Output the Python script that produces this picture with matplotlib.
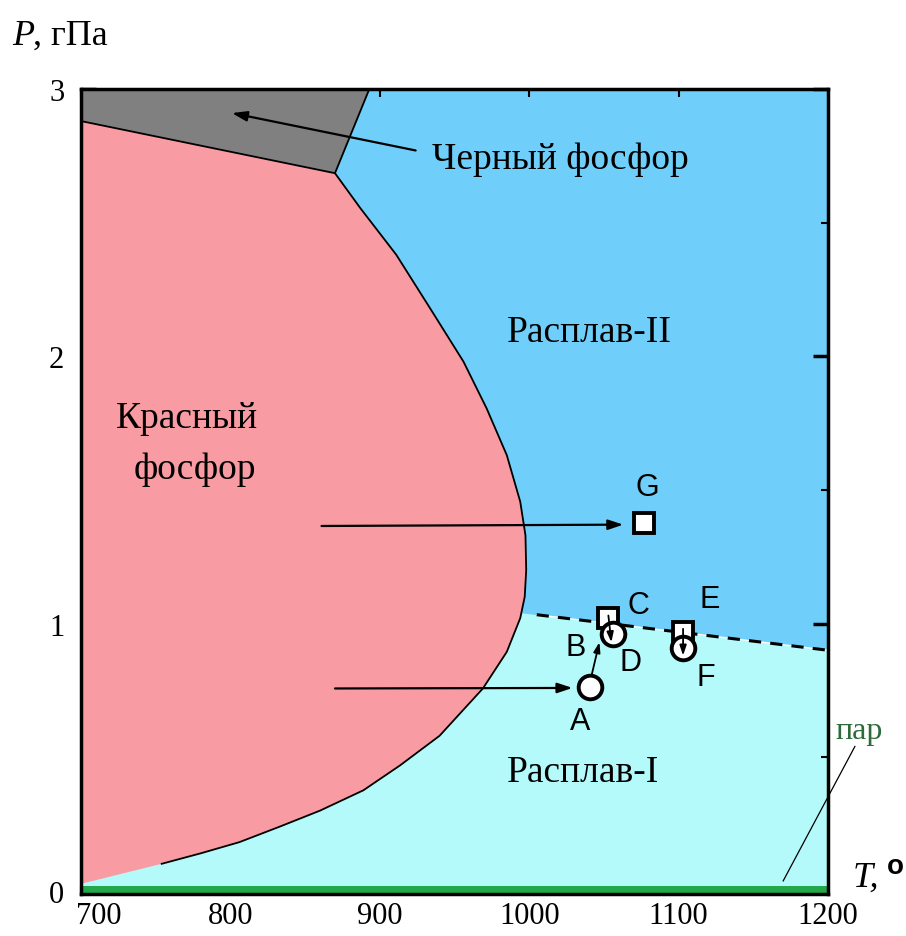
import matplotlib
matplotlib.use("Agg")
import matplotlib.pyplot as plt
import matplotlib.transforms as mtransforms
import numpy as np
from matplotlib.ticker import MultipleLocator

# ---- data ----
red_T = [700, 754, 780, 806, 833, 860, 889, 913.5, 940, 969, 985, 994, 997, 998, 997.5, 994, 985,
         971.5, 956, 933.6, 911, 887, 870, 700]
red_P = [0.026, 0.101, 0.14, 0.182, 0.24, 0.30, 0.376, 0.469, 0.58, 0.757, 0.894, 1.02, 1.10, 1.20,
         1.33, 1.456, 1.63, 1.805, 1.98, 2.18, 2.38, 2.554, 2.685, 2.88]
black_T = [700, 870, 893, 700]
black_P = [2.88, 2.685, 3.0, 3.0]
melt_T = [995, 1200]
melt_P = [1.04, 0.90]
dash_T = [1005, 1200]
dash_P = [1.033, 0.90]

sq_T = [1053, 1103, 1077]      # C, E, G
sq_P = [1.02, 0.97, 1.375]
ci_T = [1041, 1056, 1103]      # A, D, F
ci_P = [0.764, 0.96, 0.91]

pt_labels = ["G", "C", "E", "B", "D", "F", "A"]
pt_lab_T = [1079, 1073, 1121, 1031, 1068, 1118, 1034]
pt_lab_P = [1.51, 1.07, 1.09, 0.913, 0.855, 0.80, 0.637]

xticks = [700, 800, 900, 1000, 1100, 1200]
yticks = [0, 1, 2, 3]

c_red = "#F99BA2"
c_blue = "#6FCFFA"
c_cyan = "#B5FAFB"
c_gray = "#808080"
c_green = "#22A84A"

serif = "Liberation Serif"
sans = "Liberation Sans"

fig = plt.figure(figsize=(9.06, 9.37), dpi=100)
ax = fig.add_axes([81/906, 42/937, (828-81)/906, (895-90)/937])
ax.set_xlim(700, 1200)
ax.set_ylim(-0.012, 3.0)
ax.set_facecolor(c_cyan)

# melt II region (above boundary line)
Tl = np.array([700, 1200])
slope = (melt_P[1]-melt_P[0])/(melt_T[1]-melt_T[0])
Pl = melt_P[0] + slope*(Tl - melt_T[0])
ax.fill_between(Tl, Pl, 3.0, color=c_blue, lw=0, zorder=1)

# red phosphor
ax.fill(red_T, red_P, color=c_red, lw=0, zorder=2)
ax.plot(red_T[1:-1], red_P[1:-1], color="black", lw=1.3, zorder=3, solid_joinstyle="round")
# black phosphor
ax.fill(black_T, black_P, color=c_gray, lw=0, zorder=2)
ax.plot(black_T[:3], black_P[:3], color="black", lw=1.3, zorder=3)

# green vapour band
ax.axhspan(-0.012, 0.018, color=c_green, lw=0, zorder=4)

# dashed melt boundary
ax.plot(dash_T, dash_P, color="white", lw=1.0, zorder=3)
ax.plot(dash_T, dash_P, color="black", lw=2.2, ls=(0, (4, 3)), zorder=4)

# arrows
arrow_kw = dict(arrowstyle="-|>,head_length=0.9,head_width=0.3", color="black", lw=1.6, shrinkA=0, shrinkB=0)
ax.annotate("", xy=(1063, 1.37), xytext=(861, 1.365), arrowprops=arrow_kw, zorder=6)
ax.annotate("", xy=(1029, 0.759), xytext=(870, 0.757), arrowprops=arrow_kw, zorder=6)
ax.annotate("", xy=(801, 2.91), xytext=(924, 2.77), arrowprops=arrow_kw, zorder=6)
small_kw = dict(arrowstyle="-|>,head_length=0.6,head_width=0.2", color="black", lw=1.3, shrinkA=0, shrinkB=0)
ax.annotate("", xy=(1047, 0.93), xytext=(1041.5, 0.80), arrowprops=small_kw, zorder=6)

# markers
ax.plot(sq_T, sq_P, ls="none", marker="s", ms=15, mfc="white", mec="black", mew=2.8, zorder=7)
ax.plot(ci_T, ci_P, ls="none", marker="o", ms=17, mfc="white", mec="black", mew=2.8, zorder=7)
ax.annotate("", xy=(1055, 0.93), xytext=(1053, 1.03), arrowprops=small_kw, zorder=8)
ax.annotate("", xy=(1103, 0.88), xytext=(1103, 0.98), arrowprops=small_kw, zorder=8)

for s, t, p in zip(pt_labels, pt_lab_T, pt_lab_P):
    ax.text(t, p, s, family=sans, fontsize=22, ha="center", va="center", zorder=9)

# region labels
ax.text(1020.6, 2.74, "Черный фосфор", family=serif, fontsize=27, ha="center", va="center", zorder=9)
ax.text(1040.5, 2.09, "Расплав-II", family=serif, fontsize=27, ha="center", va="center", zorder=9)
ax.text(771, 1.77, "Красный", family=serif, fontsize=27, ha="center", va="center", zorder=9)
ax.text(776, 1.58, "фосфор", family=serif, fontsize=27, ha="center", va="center", zorder=9)
ax.text(1036, 0.446, "Расплав-I", family=serif, fontsize=27, ha="center", va="center", zorder=9)

# vapour label and line
ax.plot([1170, 1218], [0.037, 0.54], color="black", lw=0.9, clip_on=False, zorder=9)
ax.text(1221, 0.60, "пар", family=serif, fontsize=23, color="#2E6B3A", ha="center", va="center", clip_on=False)

# axes styling
ax.set_xticks(xticks)
ax.set_yticks(yticks)
ax.yaxis.set_minor_locator(MultipleLocator(0.5))
ax.tick_params(which="both", direction="in", top=True, right=True, zorder=10)
ax.tick_params(axis="y", which="major", length=11, width=2.5, pad=12, labelsize=22)
ax.tick_params(axis="y", which="minor", length=5, width=1.5)
ax.tick_params(axis="x", which="major", length=6, width=1.5, pad=5, labelsize=22)
for lab in ax.get_xticklabels() + ax.get_yticklabels():
    lab.set_family(serif)
# first x label sits right of its tick in the original
first = ax.get_xticklabels()[0]
first.set_transform(first.get_transform() + mtransforms.ScaledTranslation(18/100, 0, fig.dpi_scale_trans))
for sp in ax.spines.values():
    sp.set_linewidth(2.5)
    sp.set_zorder(10)

# axis titles
fig.text(12/906, 1-45/937, "P", family=serif, style="italic", fontsize=26, ha="left", va="baseline")
fig.text(33/906, 1-45/937, ", гПа", family=serif, fontsize=26, ha="left", va="baseline")
fig.text(853/906, 1-887/937, "T,", family=serif, style="italic", fontsize=26, ha="left", va="baseline")
fig.text(895/906, 1-867/937, "o", family=sans, fontweight="bold", fontsize=20, ha="center", va="center")

fig.savefig("out.png", dpi=100)
